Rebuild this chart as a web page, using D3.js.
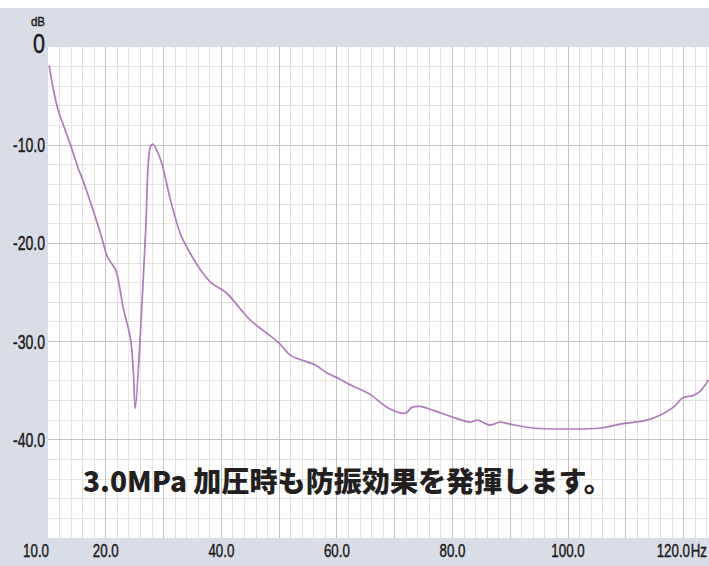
<!DOCTYPE html>
<html>
<head>
<meta charset="utf-8">
<script src="https://cdn.jsdelivr.net/npm/d3@7"></script>
<style>
  html, body { margin: 0; padding: 0; background: #fff; }
  svg { display: block; }
</style>
</head>
<body>
<div id="chart"></div>
<script>
// frequency response (Hz, dB)
const freq = [10.2, 11.6, 13.0, 14.2, 15.3, 15.6, 19.1, 20.3, 21.7, 22.5, 23.0, 24.3, 24.8, 25.1,
  26.0, 26.9, 27.7, 28.1, 29.5, 31.2, 32.9, 34.6, 36.4, 38.2, 40.8, 45.0, 49.9, 52.0, 56.3,
  58.3, 60.1, 62.3, 65.8, 68.7, 71.8, 73.0, 74.4, 76.7, 80.1, 83.1, 84.3, 86.5, 88.2, 89.9,
  93.9, 99.8, 105.6, 109.0, 113.7, 115.9, 118.2, 119.9, 121.6, 122.8, 124.3];
const level = [-1.9, -6.1, -8.5, -10.5, -12.5, -12.9, -19.0, -21.4, -22.7, -24.8, -26.5, -29.8, -33.4, -36.8,
  -29.1, -18.7, -10.2, -9.9, -11.5, -15.6, -19.0, -21.0, -22.7, -24.0, -25.0, -27.8, -30.1, -31.4, -32.4,
  -33.2, -33.7, -34.4, -35.4, -36.7, -37.3, -36.7, -36.6, -37.0, -37.7, -38.2, -38.0, -38.5, -38.2, -38.4,
  -38.8, -38.9, -38.8, -38.4, -38.0, -37.5, -36.7, -35.7, -35.5, -35.1, -33.9];

const xTicks = [10, 20, 40, 60, 80, 100, 120];
const yTicks = [-10, -20, -30, -40];
const caption = '3.0MPa 加圧時も防振効果を発揮します。';

const W = 709, H = 566;
const plot = { left: 48, top: 47, right: 709, bottom: 538 };

const svg = d3.select('#chart').append('svg')
    .attr('width', W)
    .attr('height', H);

const x = d3.scaleLinear().domain([10, 124.4]).range([plot.left, plot.right]);
const y = d3.scaleLinear().domain([0, -50]).range([plot.top, plot.bottom]);

// grey frame and white plot area
svg.append('rect').attr('x', 0).attr('y', 8).attr('width', W).attr('height', H - 8).attr('fill', '#d9dde8');
svg.append('rect')
    .attr('x', plot.left).attr('y', plot.top)
    .attr('width', plot.right - plot.left).attr('height', plot.bottom - plot.top)
    .attr('fill', '#fff');

// grid: minor every 2, major every 10
const grid = svg.append('g').attr('shape-rendering', 'crispEdges');
const vLines = d3.range(10, 125, 2);
const hLines = d3.range(0, -51, -2);

grid.selectAll('.vminor').data(vLines.filter(d => d % 10 !== 0)).enter().append('line')
    .attr('x1', d => x(d)).attr('x2', d => x(d))
    .attr('y1', plot.top).attr('y2', plot.bottom)
    .attr('stroke', (d, i) => i % 2 ? '#e8e5da' : '#dfdfdf');
grid.selectAll('.hminor').data(hLines.filter(d => d % 10 !== 0)).enter().append('line')
    .attr('y1', d => y(d)).attr('y2', d => y(d))
    .attr('x1', plot.left).attr('x2', plot.right)
    .attr('stroke', (d, i) => i % 2 ? '#e8e5da' : '#dfdfdf');
grid.selectAll('.vmajor').data(vLines.filter(d => d % 10 === 0 && d > 10)).enter().append('line')
    .attr('x1', d => x(d)).attr('x2', d => x(d))
    .attr('y1', plot.top).attr('y2', plot.bottom)
    .attr('stroke', '#c2c2c2');
grid.selectAll('.hmajor').data(yTicks).enter().append('line')
    .attr('y1', d => y(d)).attr('y2', d => y(d))
    .attr('x1', plot.left).attr('x2', plot.right)
    .attr('stroke', '#c2c2c2');

// the curve
const line = d3.line()
    .x(d => x(d[0]))
    .y(d => y(d[1]))
    .curve(d3.curveCatmullRom.alpha(0.5));

svg.append('path')
    .datum(freq.map((f, i) => [f, level[i]]))
    .attr('d', line)
    .attr('fill', 'none')
    .attr('stroke', '#ad7bb9')
    .attr('stroke-width', 1.7);

// axis labels, squeezed sideways to look like a condensed face
function condensed(px, py, size, sx, anchor, str) {
    return svg.append('text')
        .attr('transform', `translate(${px},${py}) scale(${sx},1)`)
        .attr('text-anchor', anchor)
        .attr('font-family', '"Liberation Sans", Arial, sans-serif')
        .attr('font-size', size)
        .attr('fill', '#1a1a1a')
        .attr('stroke', '#1a1a1a')
        .attr('stroke-width', 0.45)
        .text(str);
}

yTicks.forEach(d => condensed(45, y(d) + 7, 19.5, 0.72, 'end', d.toFixed(1)));

condensed(45, 53, 27, 0.8, 'end', '0');
condensed(45, 26, 13.5, 0.85, 'end', 'dB');

xTicks.forEach(d => {
    if (d === 10) condensed(x(d) + 1, 557, 18, 0.74, 'end', d.toFixed(1));
    else if (d === 120) {
        condensed(690, 557, 18, 0.74, 'end', d.toFixed(1));
        condensed(707, 557, 18, 0.74, 'end', 'Hz');
    }
    else condensed(x(d), 557, 18, 0.74, 'middle', d.toFixed(1));
});

// caption inside the plot
const cap = svg.append('text')
    .attr('x', 83).attr('y', 492)
    .attr('font-family', '"Noto Sans CJK JP", sans-serif')
    .attr('font-weight', 900)
    .attr('font-size', 28)
    .attr('fill', '#231f20')
    .text(caption);
const capW = cap.node().getComputedTextLength();
cap.attr('font-size', 28 * 529 / capW);
</script>
</body>
</html>
